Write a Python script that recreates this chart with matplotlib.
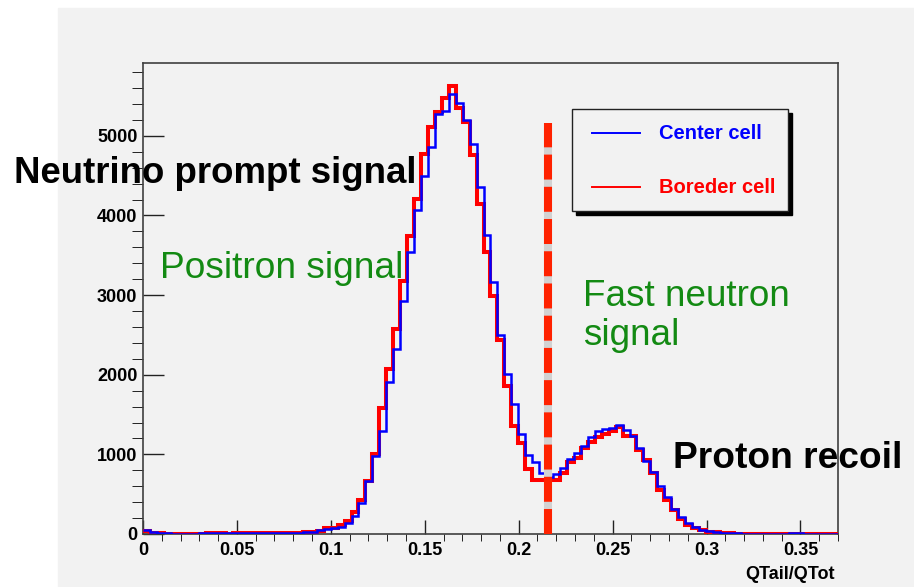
import numpy as np
import matplotlib.pyplot as plt
from matplotlib.patches import Rectangle
from matplotlib.ticker import MultipleLocator, FuncFormatter

plt.rcParams['font.family'] = ['Liberation Sans', 'DejaVu Sans']

# 100 bins of QTail/QTot between 0 and 0.37
edges = np.linspace(0.0, 0.37, 101)

center_cell = [
    45, 20, 15, 10, 6, 3, 2, 2, 8, 10, 12, 12, 10, 12, 12, 12, 13, 12, 14, 14,
    15, 16, 18, 22, 28, 48, 62, 73, 90, 140, 232, 391, 663, 977, 1290, 1905,
    2323, 2925, 3540, 4063, 4502, 4854, 5272, 5314, 5523, 5418, 5193, 4900,
    4360, 3758, 3160, 2494, 2010, 1637, 1257, 997, 901, 772, 720, 755, 830,
    945, 1020, 1105, 1212, 1295, 1315, 1326, 1374, 1311, 1236, 1077, 914, 776,
    609, 466, 320, 215, 140, 90, 56, 35, 22, 15, 10, 8, 6, 5, 5, 4, 4, 3, 4,
    12, 8, 3, 2, 3, 2, 2,
]
border_cell = [
    35, 12, 8, 5, 0, 0, 0, 0, 0, 8, 12, 10, 0, 10, 12, 12, 12, 12, 12, 14,
    14, 16, 18, 22, 30, 40, 72, 80, 119, 169, 274, 433, 663, 1010, 1583, 2073,
    2575, 3172, 3737, 4205, 4774, 5109, 5300, 5481, 5627, 5347, 5172, 4762,
    4140, 3536, 2984, 2440, 1855, 1353, 1144, 822, 675, 675, 680, 680, 770,
    905, 960, 1080, 1160, 1220, 1260, 1290, 1350, 1230, 1230, 1052, 926, 767,
    558, 433, 307, 194, 119, 77, 48, 30, 20, 12, 8, 6, 5, 4, 3, 2, 0, 0, 3,
    0, 0, 2, 3, 2, 2, 1,
]
series_names = ['Center cell', 'Boreder cell']
series_colors = ['#0000ff', '#ff0000']

cut_x = 0.2157
cut_top = 5165

W, H = 914, 587
fig = plt.figure(figsize=(W / 100, H / 100), dpi=100, facecolor='white')
bg = '#f2f2f2'
fig.patches.append(Rectangle((58 / W, 0), 1 - 58 / W, 1 - 8 / H,
                             transform=fig.transFigure, color=bg, zorder=-10))

ax = fig.add_axes([143 / W, 1 - 534 / H, 695 / W, 471 / H])
ax.set_facecolor(bg)

ax.stairs(border_cell, edges, baseline=None, color=series_colors[1], lw=2.9, zorder=3)
ax.stairs(center_cell, edges, baseline=None, color=series_colors[0], lw=1.8, zorder=4)

# cut line: grey underlay shows through the gaps of the red dashes
ax.plot([cut_x, cut_x], [0, cut_top], color='#d2d2d2', lw=5.8, solid_capstyle='butt', zorder=5)
ax.plot([cut_x, cut_x], [0, cut_top], color='#ff2200', lw=5.8, ls=(0, (3.1, 0.9)),
        dash_capstyle='butt', zorder=6)

ax.set_xlim(0, 0.37)
ax.set_ylim(0, 5915)
ax.xaxis.set_major_locator(MultipleLocator(0.05))
ax.xaxis.set_minor_locator(MultipleLocator(0.01))
ax.yaxis.set_major_locator(MultipleLocator(1000))
ax.yaxis.set_minor_locator(MultipleLocator(200))
ax.xaxis.set_major_formatter(FuncFormatter(lambda v, p: '%g' % round(v, 3)))

ax.tick_params(direction='in', top=False, right=False, width=1.0, color='#222222',
               labelsize=13)
ax.tick_params(axis='x', which='major', length=10, pad=5.5)
ax.tick_params(axis='x', which='minor', length=5)
ax.tick_params(axis='y', which='major', length=15, pad=4)
ax.tick_params(axis='y', which='minor', length=7.7)
for lab in ax.get_xticklabels() + ax.get_yticklabels():
    lab.set_fontweight('bold')
for s in ax.spines.values():
    s.set_color('#404040')
    s.set_linewidth(1.2)

ax.text(0.996, -0.0955, 'QTail/QTot', transform=ax.transAxes, ha='right', va='baseline',
        fontsize=13, fontweight='bold')

# legend box with a drop shadow
lx0, lx1, ly0, ly1 = 0.6168, 0.9285, 0.6858, 0.9017
ax.add_patch(Rectangle((lx0 + 0.0058, ly0 - 0.0085), lx1 - lx0, ly1 - ly0,
                       transform=ax.transAxes, color='black', zorder=7))
ax.add_patch(Rectangle((lx0, ly0), lx1 - lx0, ly1 - ly0, transform=ax.transAxes,
                       facecolor=bg, edgecolor='#222222', lw=1.0, zorder=8))
for i, (name, col) in enumerate(zip(series_names, series_colors)):
    yy = 0.8507 - i * 0.1146
    ax.plot([0.6460, 0.7151], [yy, yy], color=col, lw=1.4, transform=ax.transAxes, zorder=9)
    ax.text(0.7424, yy, name, color=col, fontsize=14.5, fontweight='bold',
            transform=ax.transAxes, ha='left', va='center', zorder=9)

green = '#138a13'
fig.text(14 / W, 1 - 183 / H, 'Neutrino prompt signal', fontsize=26.4, fontweight='bold',
         color='black', va='baseline', ha='left')
fig.text(160 / W, 1 - 278 / H, 'Positron signal', fontsize=26.7, color=green,
         va='baseline', ha='left')
fig.text(583 / W, 1 - 306 / H, 'Fast neutron', fontsize=26.6, color=green,
         va='baseline', ha='left')
fig.text(583 / W, 1 - 345 / H, 'signal', fontsize=26.6, color=green,
         va='baseline', ha='left')
fig.text(673 / W, 1 - 468 / H, 'Proton recoil', fontsize=26.7, fontweight='bold',
         color='black', va='baseline', ha='left')

fig.savefig('out.png', dpi=100, facecolor=fig.get_facecolor())
